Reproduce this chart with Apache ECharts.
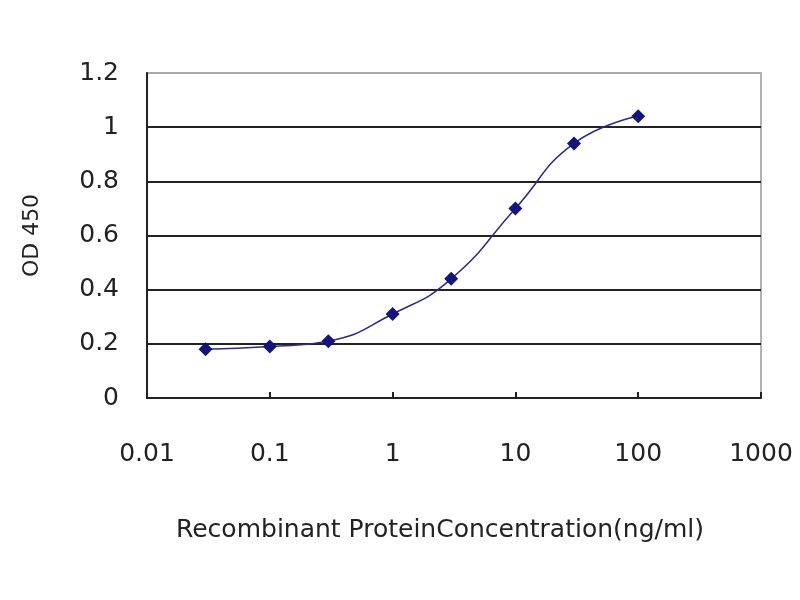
<!DOCTYPE html>
<html>
<head>
<meta charset="utf-8">
<script src="https://cdn.jsdelivr.net/npm/echarts@6/dist/echarts.min.js"></script>
<style>
  html, body { margin: 0; padding: 0; background: #fff; }
  #main { width: 800px; height: 600px; }
</style>
</head>
<body>
<div id="main"></div>
<script>
const concentrations = [0.03, 0.1, 0.3, 1, 3, 10, 30, 100];
const odValues = [0.18, 0.19, 0.21, 0.31, 0.44, 0.70, 0.94, 1.04];

const chart = echarts.init(document.getElementById('main'));

const points = concentrations.map((c, i) => [c, odValues[i]]);

const options = {
  animation: false,
  grid: {
    left: 147,
    top: 73,
    right: 39,
    bottom: 202,
    show: true,
    borderColor: '#999',
    borderWidth: 1.5
  },
  xAxis: {
    type: 'log',
    logBase: 10,
    min: 0.01,
    max: 1000,
    name: 'Recombinant ProteinConcentration(ng/ml)',
    nameLocation: 'middle',
    nameGap: 120,
    nameTextStyle: { fontFamily: 'DejaVu Sans', fontSize: 25, color: '#222', padding: [0, 28, 0, 0] },
    axisLine: { lineStyle: { color: '#222', width: 2 } },
    axisTick: { inside: true, length: 6, lineStyle: { color: '#222', width: 2 } },
    axisLabel: {
      margin: 44,
      fontFamily: 'DejaVu Sans',
      fontSize: 25,
      color: '#222',
      formatter: v => String(Number(v.toPrecision(3)))
    },
    splitLine: { show: false }
  },
  yAxis: {
    type: 'value',
    min: 0,
    max: 1.2,
    interval: 0.2,
    name: 'OD 450',
    nameLocation: 'middle',
    nameGap: 104,
    nameRotate: 90,
    nameTextStyle: { fontFamily: 'DejaVu Sans', fontSize: 22, color: '#222' },
    axisLine: { show: true, lineStyle: { color: '#222', width: 2 } },
    axisTick: { show: false },
    axisLabel: {
      margin: 28,
      fontFamily: 'DejaVu Sans',
      fontSize: 25,
      color: '#222',
      formatter: v => String(Number(v.toFixed(1)))
    },
    splitLine: {
      show: true,
      lineStyle: {
        color: ['#222', '#222', '#222', '#222', '#222', '#222', '#aaa'],
        width: 2
      }
    }
  },
  series: [{
    type: 'line',
    data: points,
    smooth: true,
    symbol: 'diamond',
    symbolSize: 14,
    itemStyle: { color: '#14147a' },
    lineStyle: { color: '#2a2a8a', width: 1.5 }
  }]
};

chart.setOption(options);
</script>
</body>
</html>
